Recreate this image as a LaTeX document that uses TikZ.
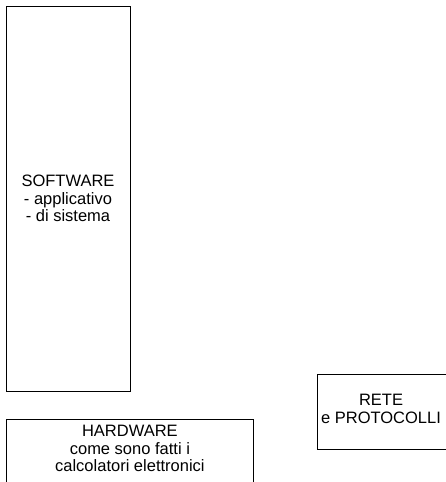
\documentclass[tikz,border=0pt]{standalone}
\usepackage{fontspec}
\setmainfont{Liberation Sans}
\usetikzlibrary{positioning}

\begin{document}
\begin{tikzpicture}[
  x=1pt, y=-1pt,
  box/.style = {draw, line width=0.8pt, inner sep=0pt},
  txt/.style = {align=center, inner sep=0pt, font=\fontsize{16.5}{17.5}\selectfont}
]
  \useasboundingbox (0,0) rectangle (446,482);

  % Software box
  \node[box, txt, minimum width=124pt, minimum height=385pt] (software) at (68,198.5)
    {SOFTWARE\\- applicativo\\- di sistema};

  % Hardware box
  \node[box, minimum width=247pt, minimum height=100pt, anchor=north west] (hardware) at (6,419) {};
  \node[txt, below=6pt of hardware.north] (hwtext)
    {HARDWARE\\come sono fatti i\\calcolatori elettronici};

  % Rete box
  \node[box, minimum width=150pt, minimum height=75pt, anchor=north west] (rete) at (317,374) {};
  \node[txt] (retetext) at (381,409) {RETE\\e PROTOCOLLI};

\end{tikzpicture}
\end{document}
